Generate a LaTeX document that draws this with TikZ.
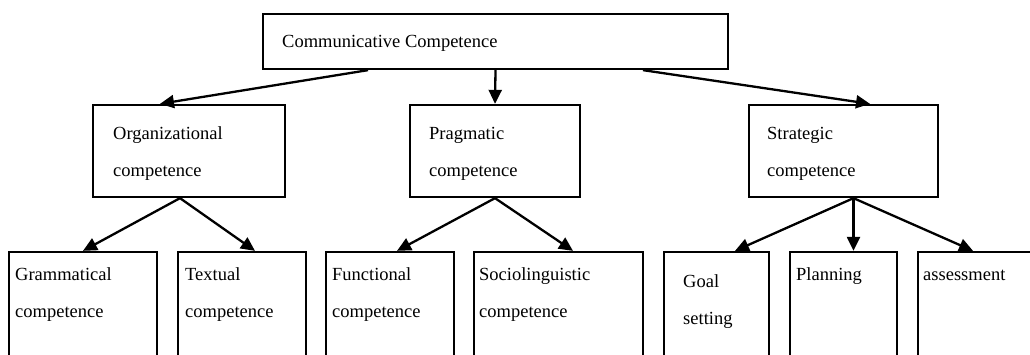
\documentclass[tikz,border=0pt]{standalone}
\usepackage{fontspec}
\setmainfont{Liberation Serif}
\usetikzlibrary{arrows.meta}
\begin{document}
\begin{tikzpicture}[x=1pt,y=-1pt,
  box/.style={draw, line width=2.3pt, rectangle, inner sep=0pt},
  lbl/.style={anchor=base west, inner sep=0pt, align=left,
              font=\fontsize{18.5}{37}\selectfont},
  link/.style={line width=2.3pt, -{Triangle[length=14pt,width=13pt]}}]
\useasboundingbox (0,0) rectangle (1030,355);
\clip (0,0) rectangle (1030,355);

% top level
\node[box, minimum width=465pt, minimum height=55pt] (cc) at (495.5,41.5) {};
\node[lbl] (cct) at (282,48) {Communicative Competence};

% second level (label anchors sit on the last line's baseline)
\node[box, minimum width=192pt, minimum height=92pt] (org) at (189,151) {};
\node[box, minimum width=170pt, minimum height=92pt] (prag) at (495,151) {};
\node[box, minimum width=189pt, minimum height=92pt] (strat) at (843.5,151) {};
\node[lbl] (orgt) at (113,177) {Organizational\\competence};
\node[lbl] (pragt) at (429,177) {Pragmatic\\competence};
\node[lbl] (stratt) at (767,177) {Strategic\\competence};

% third level (boxes run past the lower edge)
\node[box, minimum width=148pt, minimum height=118pt] (gram) at (83,311) {};
\node[box, minimum width=128pt, minimum height=118pt] (text) at (242,311) {};
\node[box, minimum width=128pt, minimum height=118pt] (func) at (390,311) {};
\node[box, minimum width=169pt, minimum height=118pt] (socio) at (558.5,311) {};
\node[box, minimum width=105pt, minimum height=118pt] (goal) at (716.5,311) {};
\node[box, minimum width=107pt, minimum height=118pt] (plan) at (843.5,311) {};
\node[box, minimum width=127pt, minimum height=118pt] (assess) at (981.5,311) {};
\node[lbl] (gramt) at (15,317) {Grammatical\\competence};
\node[lbl] (textt) at (185,317) {Textual\\competence};
\node[lbl] (funct) at (332,317) {Functional\\competence};
\node[lbl] (sociot) at (479,317) {Sociolinguistic\\competence};
\node[lbl] (goalt) at (683,324) {Goal\\setting};
\node[lbl] (plant) at (796,280) {Planning};
\node[lbl] (assesst) at (923,280) {assessment};

% connectors
\draw[link] ([xshift=-127.5pt]cc.south) -- ([xshift=-29pt]org.north);
\draw[link] (cc.south) -- (prag.north);
\draw[link] ([xshift=147.5pt]cc.south) -- ([xshift=26.5pt]strat.north);

\draw[link] ([xshift=-9pt]org.south) -- (gram.north);
\draw[link] ([xshift=-9pt]org.south) -- ([xshift=13pt]text.north);
\draw[link] (prag.south) -- ([xshift=7pt]func.north);
\draw[link] (prag.south) -- ([xshift=14.5pt]socio.north);
\draw[link] ([xshift=10pt]strat.south) -- ([xshift=18.5pt]goal.north);
\draw[link] ([xshift=10pt]strat.south) -- ([xshift=10pt]plan.north);
\draw[link] ([xshift=10pt]strat.south) -- ([xshift=-8.5pt]assess.north);
\end{tikzpicture}
\end{document}
